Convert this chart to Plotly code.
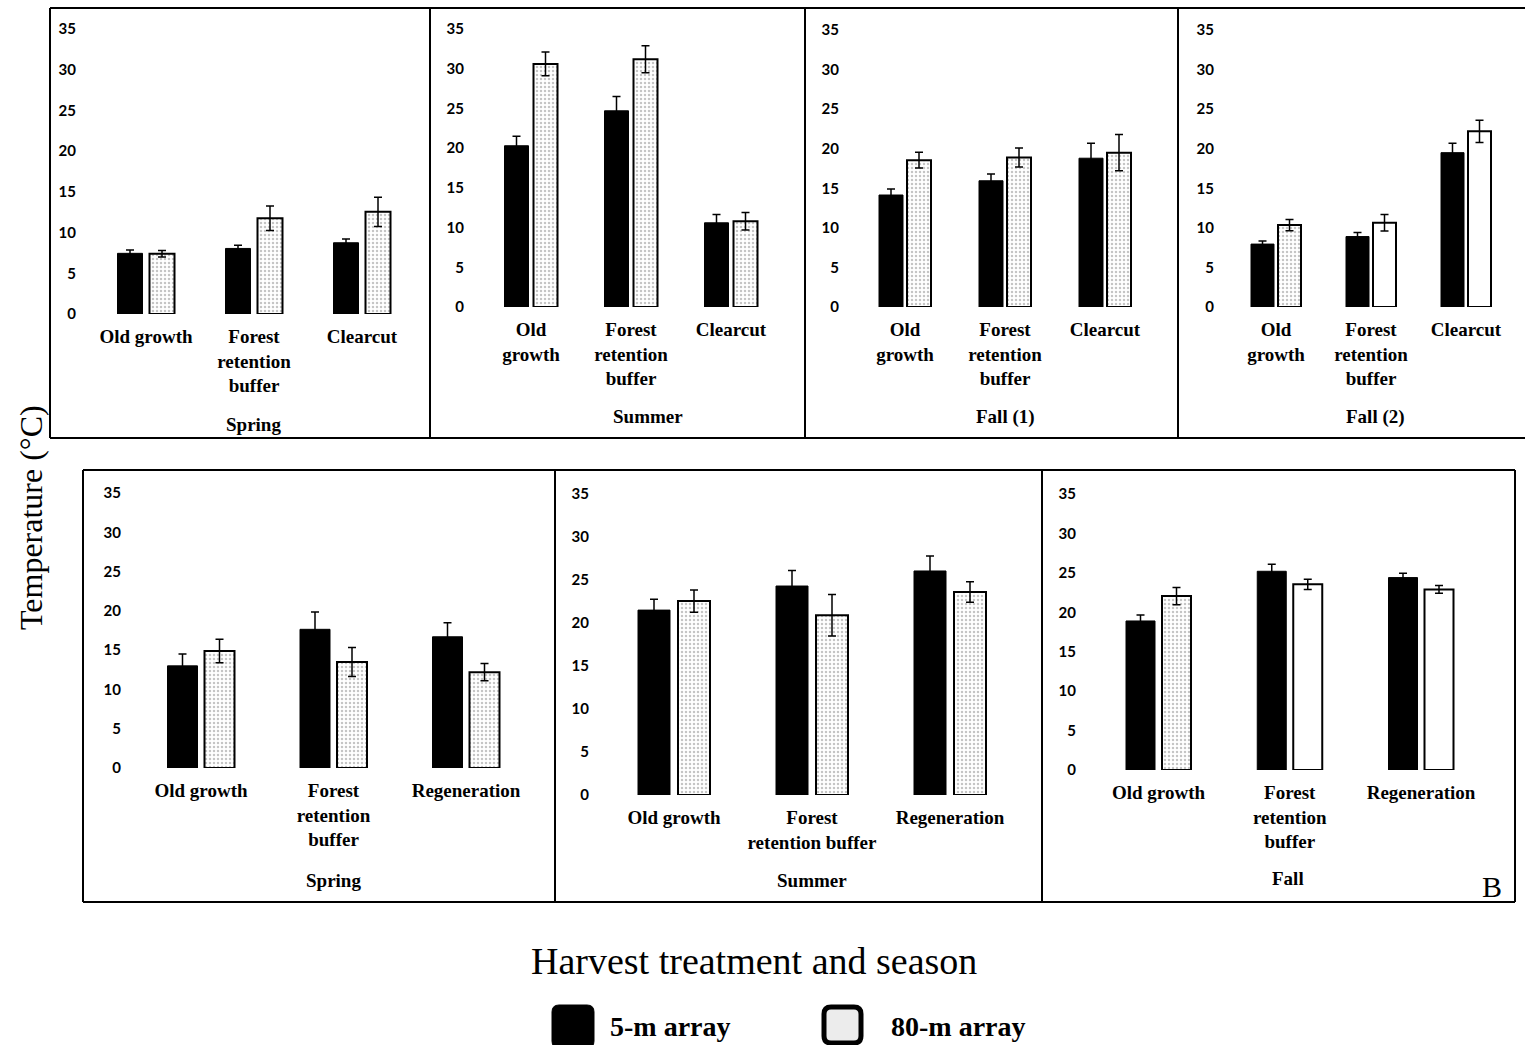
import plotly.graph_objects as go

# ---------------- data ----------------
top_ticks_p1 = ["Old growth", "Forest<br>retention<br>buffer", "Clearcut"]
top_ticks = ["Old<br>growth", "Forest<br>retention<br>buffer", "Clearcut"]
bot_ticks = ["Old growth", "Forest<br>retention<br>buffer", "Regeneration"]
bot_ticks_summer = ["Old growth", "Forest<br>retention buffer", "Regeneration"]

seasons_top = ["Spring", "Summer", "Fall (1)", "Fall (2)"]
seasons_bot = ["Spring", "Summer", "Fall"]

spring_5m = [7.45, 8.05, 8.75]
spring_5m_se = [0.4, 0.4, 0.45]
spring_80m = [7.4, 11.75, 12.55]
spring_80m_se = [0.4, 1.5, 1.8]

summer_5m = [20.3, 24.7, 10.6]
summer_5m_se = [1.2, 1.8, 1.05]
summer_80m = [30.6, 31.2, 10.8]
summer_80m_se = [1.5, 1.7, 1.1]

fall1_5m = [14.15, 15.95, 18.8]
fall1_5m_se = [0.75, 0.85, 1.9]
fall1_80m = [18.55, 18.9, 19.5]
fall1_80m_se = [1.0, 1.2, 2.3]

fall2_5m = [7.95, 8.9, 19.5]
fall2_5m_se = [0.4, 0.5, 1.2]
fall2_80m = [10.35, 10.65, 22.2]
fall2_80m_se = [0.7, 1.05, 1.4]

b_spring_5m = [13.0, 17.65, 16.7]
b_spring_5m_se = [1.5, 2.2, 1.8]
b_spring_80m = [14.9, 13.5, 12.2]
b_spring_80m_se = [1.5, 1.85, 1.1]

b_summer_5m = [21.5, 24.3, 26.05]
b_summer_5m_se = [1.25, 1.8, 1.75]
b_summer_80m = [22.55, 20.9, 23.6]
b_summer_80m_se = [1.3, 2.4, 1.2]

b_fall_5m = [18.9, 25.2, 24.4]
b_fall_5m_se = [0.75, 0.9, 0.55]
b_fall_80m = [22.05, 23.55, 22.9]
b_fall_80m_se = [1.1, 0.65, 0.5]

y_ticks = [0, 5, 10, 15, 20, 25, 30, 35]

# ---------------- layout helpers ----------------
OFF = 0
W, H = 1525, 1045


def X(px):
    return (px - OFF) / W


def Y(py):
    return 1 - (py - OFF) / H


def clamp(v):
    return max(0.0, min(1.0, v))


SERIF = "Liberation Serif"
SANS = "Lato"

panels = [
    dict(ticks=top_ticks_p1, d5=spring_5m, e5=spring_5m_se, d80=spring_80m, e80=spring_80m_se,
         dl=79, dr=425, y0=314, y35=29, c=[146, 254, 362], w=25, o=16,
         pat=[".", ".", "."], season=seasons_top[0], sx=253, sy=424),
    dict(ticks=top_ticks, d5=summer_5m, e5=summer_5m_se, d80=summer_80m, e80=summer_80m_se,
         dl=467, dr=800, y0=307, y35=29, c=[531, 631, 731], w=24, o=14.5,
         pat=[".", ".", "."], season=seasons_top[1], sx=648, sy=417),
    dict(ticks=top_ticks, d5=fall1_5m, e5=fall1_5m_se, d80=fall1_80m, e80=fall1_80m_se,
         dl=842, dr=1173, y0=307, y35=30, c=[905, 1005, 1105], w=24, o=14,
         pat=[".", ".", "."], season=seasons_top[2], sx=1005, sy=417),
    dict(ticks=top_ticks, d5=fall2_5m, e5=fall2_5m_se, d80=fall2_80m, e80=fall2_80m_se,
         dl=1217, dr=1520, y0=307, y35=30, c=[1276, 1370, 1466], w=23, o=13.5,
         pat=[".", "", ""], season=seasons_top[3], sx=1375, sy=417),
    dict(ticks=bot_ticks, d5=b_spring_5m, e5=b_spring_5m_se, d80=b_spring_80m, e80=b_spring_80m_se,
         dl=124, dr=550, y0=768, y35=493, c=[201, 333.5, 466], w=30, o=18.5,
         pat=[".", ".", "."], season=seasons_bot[0], sx=333, sy=880),
    dict(ticks=bot_ticks_summer, d5=b_summer_5m, e5=b_summer_5m_se, d80=b_summer_80m, e80=b_summer_80m_se,
         dl=592, dr=1037, y0=795, y35=494, c=[674, 812, 950], w=32, o=20,
         pat=[".", ".", "."], season=seasons_bot[1], sx=812, sy=880),
    dict(ticks=bot_ticks, d5=b_fall_5m, e5=b_fall_5m_se, d80=b_fall_80m, e80=b_fall_80m_se,
         dl=1079, dr=1510, y0=770, y35=494, c=[1158.5, 1290, 1421], w=29, o=18,
         pat=[".", "", ""], season=seasons_bot[2], sx=1288, sy=878),
]

fig = go.Figure()
layout = dict(
    width=W, height=H, autosize=False,
    margin=dict(l=0, r=0, t=0, b=0, pad=0, autoexpand=False),
    paper_bgcolor="white", plot_bgcolor="white", showlegend=False,
    barmode="overlay",
)
annotations = []
shapes = []

for i, p in enumerate(panels):
    n = i + 1
    xa = "x" if n == 1 else f"x{n}"
    ya = "y" if n == 1 else f"y{n}"
    s = (p["c"][2] - p["c"][0]) / 2.0
    c0 = p["c"][0]
    dl_px = p["dl"]
    dr_px = min(p["dr"], OFF + W)
    xr = [(dl_px - c0) / s, (dr_px - c0) / s]
    xs = [0, 1, 2]
    wd = p["w"] / s
    fig.add_trace(go.Bar(
        x=xs, y=p["d5"], xaxis=xa, yaxis=ya, name="5-m array",
        width=wd, offset=(-p["o"] - p["w"] / 2) / s,
        marker=dict(color="black", line=dict(color="black", width=1)),
        error_y=dict(type="data", array=p["e5"], color="black", thickness=1.5, width=4),
    ))
    fig.add_trace(go.Bar(
        x=xs, y=p["d80"], xaxis=xa, yaxis=ya, name="80-m array",
        width=wd, offset=(p["o"] - p["w"] / 2) / s,
        marker=dict(color="white", line=dict(color="black", width=2),
                    pattern=dict(shape=p["pat"], fgcolor="#8a8a8a", bgcolor="white",
                                 size=4, solidity=0.3)),
        error_y=dict(type="data", array=p["e80"], color="black", thickness=1.5, width=4),
    ))
    layout["xaxis" if n == 1 else f"xaxis{n}"] = dict(
        domain=[clamp(X(dl_px)), clamp(X(dr_px))], range=xr, anchor=ya,
        tickvals=xs, ticktext=p["ticks"], showgrid=False, zeroline=False,
        showline=False, ticks="", ticklabelstandoff=9, automargin=False,
        tickfont=dict(family=SERIF, size=19, color="black", weight="bold"),
        fixedrange=True,
    )
    layout["yaxis" if n == 1 else f"yaxis{n}"] = dict(
        domain=[clamp(Y(p["y0"])), clamp(Y(p["y35"]))], range=[0, 35], anchor=xa,
        tickvals=y_ticks, showgrid=False, zeroline=False, showline=False,
        ticks="", ticklabelstandoff=2, automargin=False,
        tickfont=dict(family=SANS, size=15, color="black", weight="bold"),
        fixedrange=True,
    )
    annotations.append(dict(
        text=p["season"], x=X(p["sx"]), y=Y(p["sy"]), xref="paper", yref="paper",
        xanchor="center", yanchor="middle", showarrow=False,
        font=dict(family=SERIF, size=19, color="black", weight="bold"),
    ))

line = dict(color="black", width=2)


def hline(x0, x1, y):
    shapes.append(dict(type="line", xref="paper", yref="paper",
                       x0=X(x0), x1=X(x1), y0=Y(y), y1=Y(y), line=line))


def vline(x, y0, y1):
    shapes.append(dict(type="line", xref="paper", yref="paper",
                       x0=X(x), x1=X(x), y0=Y(y0), y1=Y(y1), line=line))


hline(50, 1525, 8)
hline(50, 1525, 438)
for vx in [50, 430, 805, 1178]:
    vline(vx, 8, 438)
hline(83, 1515, 470)
hline(83, 1515, 902)
for vx in [83, 555, 1042, 1515]:
    vline(vx, 470, 902)


def rounded(x0, y0, x1, y1, r):
    a, b = X(x0), X(x1)
    t, u = Y(y0), Y(y1)
    rx, ry = r / W, r / H
    return (f"M {a+rx},{t} L {b-rx},{t} Q {b},{t} {b},{t-ry} L {b},{u+ry} "
            f"Q {b},{u} {b-rx},{u} L {a+rx},{u} Q {a},{u} {a},{u+ry} "
            f"L {a},{t-ry} Q {a},{t} {a+rx},{t} Z")


shapes.append(dict(type="path", xref="paper", yref="paper",
                   path=rounded(552, 1005, 594, 1048, 7), fillcolor="black",
                   line=dict(color="black", width=1)))
shapes.append(dict(type="path", xref="paper", yref="paper",
                   path=rounded(824, 1007, 861, 1043, 7), fillcolor="#ececec",
                   line=dict(color="black", width=5)))

annotations += [
    dict(text="Temperature (°C)", x=X(31), y=Y(518), xref="paper", yref="paper",
         textangle=-90, showarrow=False, xanchor="center", yanchor="middle",
         font=dict(family=SERIF, size=32, color="black")),
    dict(text="Harvest treatment and season", x=X(754), y=Y(961), xref="paper", yref="paper",
         showarrow=False, xanchor="center", yanchor="middle",
         font=dict(family=SERIF, size=38, color="black")),
    dict(text="5-m array", x=X(608), y=Y(1026), xref="paper", yref="paper",
         showarrow=False, xanchor="left", yanchor="middle",
         font=dict(family=SERIF, size=28, color="black", weight="bold")),
    dict(text="80-m array", x=X(889), y=Y(1026), xref="paper", yref="paper",
         showarrow=False, xanchor="left", yanchor="middle",
         font=dict(family=SERIF, size=28, color="black", weight="bold")),
    dict(text="B", x=X(1492), y=Y(886), xref="paper", yref="paper",
         showarrow=False, xanchor="center", yanchor="middle",
         font=dict(family=SERIF, size=30, color="black")),
]

layout["annotations"] = annotations
layout["shapes"] = shapes
fig.update_layout(**layout)

fig.write_html("out.html", config={"displayModeBar": False},
               post_script="document.body.style.margin='0px';")
